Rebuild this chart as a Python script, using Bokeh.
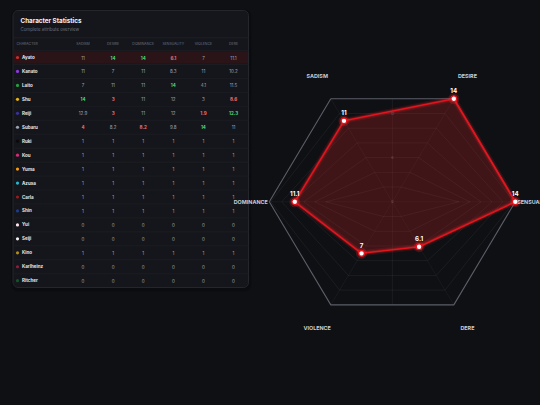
import math
from bokeh.plotting import figure
from bokeh.models import Range1d, ColumnDataSource, GlobalInlineStyleSheet
from bokeh.core.properties import value
from bokeh.embed import file_html
from bokeh.resources import INLINE

# ---------------- DATA ----------------
table_title = "Character Statistics"
table_subtitle = "Complete attribute overview"
header_first = "CHARACTER"
columns = ["SADISM", "DESIRE", "DOMINANCE", "SENSUALITY", "VIOLENCE", "DERE"]
characters = ["Ayato", "Kanato", "Laito", "Shu", "Reiji", "Subaru", "Ruki", "Kou",
              "Yuma", "Azusa", "Carla", "Shin", "Yui", "Seiji", "Kino", "Karlheinz", "Ritcher"]
char_colors = ["#dc2626", "#9333ea", "#22a33a", "#eab308", "#3730a3", "#9ca3af", "#0a0a0a",
               "#db2777", "#f59e0b", "#22b8cf", "#991b1b", "#1e3a8a", "#fbe4ee", "#f1f1f1",
               "#b08a1e", "#8b1e3f", "#14532d"]
sadism     = [11, 11, 7, 14, 12.9, 4, 1, 1, 1, 1, 1, 1, 0, 0, 1, 0, 0]
desire     = [14, 7, 11, 3, 3, 8.2, 1, 1, 1, 1, 1, 1, 0, 0, 1, 0, 0]
dominance  = [14, 11, 11, 11, 11, 8.2, 1, 1, 1, 1, 1, 1, 0, 0, 1, 0, 0]
sensuality = [6.1, 8.3, 14, 12, 12, 9.8, 1, 1, 1, 1, 1, 1, 0, 0, 1, 0, 0]
violence   = [7, 11, 4.1, 3, 1.9, 14, 1, 1, 1, 1, 1, 1, 0, 0, 1, 0, 0]
dere       = [11.1, 10.2, 11.5, 8.6, 12.3, 11, 1, 1, 1, 1, 1, 1, 0, 0, 1, 0, 0]
table_cols = [sadism, desire, dominance, sensuality, violence, dere]

radar_axes = ["SADISM", "DESIRE", "SENSUALITY", "DERE", "VIOLENCE", "DOMINANCE"]
radar_values = [11, 14, 14, 6.1, 7, 11.1]
radar_max = 14
ring_levels = [2, 4, 6, 8, 10, 12]
tick_values = [0, 6, 12]

# ---------------- STYLE / LAYOUT ----------------
BG = "#0f1014"
W, H = 540, 405
FONT = value("Inter")

p = figure(width=W, height=H, output_backend="svg", toolbar_location=None,
           x_range=Range1d(0, W), y_range=Range1d(H, 0),
           x_axis_location=None, y_axis_location=None, min_border=0,
           background_fill_color=BG, border_fill_color=BG, outline_line_color=None)
p.grid.visible = False
p.stylesheets = [GlobalInlineStyleSheet(css="html,body{background:%s;}" % BG)]

# radar coordinate system (extra ranges): centre at frame px (391.8, 201.3)
cx, cy = 391.8, 201.3
sx, sy = 123.0 / radar_max, 119.0 / radar_max
p.extra_x_ranges = {"r": Range1d(-cx / sx, (W - cx) / sx)}
p.extra_y_ranges = {"r": Range1d(-(H - cy) / sy, cy / sy)}
R = dict(x_range_name="r", y_range_name="r")

# ---------------- TABLE PANEL ----------------
px0, px1, py0, py1 = 12.5, 248, 10, 287
p.quad(left=[px0 - 2], right=[px1 + 3], top=[py0 - 1], bottom=[py1 + 4],
       fill_color="#000000", fill_alpha=0.25, line_color=None, border_radius=7)
p.quad(left=[px0], right=[px1], top=[py0], bottom=[py1],
       fill_color="#15161b", line_color="#24262c", line_width=1, border_radius=5)

p.text(x=[20], y=[20], text=[table_title], text_font=FONT, text_font_style="bold",
       text_font_size="6.3px", text_color="#f3f4f6", text_baseline="middle")
p.text(x=[20], y=[28.5], text=[table_subtitle], text_font=FONT,
       text_font_size="4.4px", text_color="#6b7280", text_baseline="middle")
p.segment(x0=[px0], x1=[px1], y0=[37.3], y1=[37.3], line_color="#1f2025", line_width=1)

col_x0, col_dx = 82.5, 30.1
col_xs = [col_x0 + i * col_dx for i in range(len(columns))]
p.text(x=[16], y=[43.7], text=[header_first], text_font=FONT, text_font_size="3.5px",
       text_color="#6b7280", text_baseline="middle")
p.text(x=col_xs, y=[43.7] * len(columns), text=columns, text_font=FONT,
       text_font_size="3.5px", text_color="#6b7280", text_baseline="middle", text_align="center")

row_y0, row_dy = 57.0, 13.95
row_ys = [row_y0 + i * row_dy for i in range(len(characters))]

# highlighted first row
p.quad(left=[px0 + 0.5], right=[px1 - 0.5], top=[row_ys[0] - 6.3], bottom=[row_ys[0] + 6.3],
       fill_color="#2a1418", line_color=None)
sep_ys = [y + row_dy / 2 for y in row_ys[:-1]] + [row_ys[0] - row_dy / 2]
p.segment(x0=[px0] * len(sep_ys), x1=[px1] * len(sep_ys), y0=sep_ys, y1=sep_ys,
          line_color="#1d1e23", line_width=0.8)

p.scatter(x=[17.0] * len(characters), y=row_ys, size=3.2, marker="circle",
          fill_color=char_colors, line_color=None)
p.text(x=[21.5] * len(characters), y=row_ys, text=characters, text_font=FONT,
       text_font_style="bold", text_font_size="4.5px", text_color="#e5e7eb",
       text_baseline="middle")

GREEN, RED, GREY = "#4ade80", "#f87171", "#9ca3af"
tx, ty, tt, tc = [], [], [], []
for ci, col in enumerate(table_cols):
    main = [v for v in col if v > 1]
    hi, lo = max(main), min(main)
    for ri, v in enumerate(col):
        tx.append(col_xs[ci]); ty.append(row_ys[ri]); tt.append(f"{v:g}")
        if v > 1 and v == hi:
            tc.append(GREEN)
        elif v > 1 and v == lo:
            tc.append(RED)
        else:
            tc.append(GREY)
bold = [c != GREY for c in tc]

def pick(seq, flag):
    return [a for a, b in zip(seq, bold) if b == flag]

src_n = ColumnDataSource(dict(x=pick(tx, False), y=pick(ty, False), t=pick(tt, False), c=pick(tc, False)))
src_b = ColumnDataSource(dict(x=pick(tx, True), y=pick(ty, True), t=pick(tt, True), c=pick(tc, True)))
p.text(x="x", y="y", text="t", text_color="c", source=src_n, text_font=FONT,
       text_font_size="4.5px", text_align="center", text_baseline="middle")
p.text(x="x", y="y", text="t", text_color="c", source=src_b, text_font=FONT,
       text_font_style="bold", text_font_size="4.5px", text_align="center", text_baseline="middle")

# ---------------- RADAR ----------------
n = len(radar_axes)
angles = [math.radians(120 - 60 * i) for i in range(n)]

def ring_pts(level, horiz=None):
    xs, ys = [], []
    for a in angles:
        r = level
        if horiz is not None and abs(math.sin(a)) < 1e-6:
            r = horiz
        xs.append(r * math.cos(a)); ys.append(r * math.sin(a))
    return xs + [xs[0]], ys + [ys[0]]

# inner rings (horizontal vertices pushed outwards as in the reference)
for lv in ring_levels:
    hr = (55.6 + 5.5 * lv) / sx
    xs, ys = ring_pts(lv, hr)
    p.line(xs, ys, line_color="#ffffff", line_alpha=0.07, line_width=0.8, **R)
# spokes
for a in angles:
    p.line([0, radar_max * math.cos(a)], [0, radar_max * math.sin(a)],
           line_color="#ffffff", line_alpha=0.05, line_width=0.8, **R)
v_ext = radar_max * math.sin(math.radians(60))
p.line([0, 0], [-v_ext, v_ext], line_color="#ffffff", line_alpha=0.07, line_width=0.8, **R)
# outer ring
xs, ys = ring_pts(radar_max)
p.line(xs, ys, line_color="#5b5e68", line_width=1.1, **R)

# tick labels
p.text(x=[0] * len(tick_values), y=[v * math.sin(math.radians(60)) for v in tick_values],
       text=[str(v) for v in tick_values], text_font=FONT, text_font_size="3.5px",
       text_color="#5b5f68", text_align="center", text_baseline="middle", **R)

# data polygon
dx = [v * math.cos(a) for v, a in zip(radar_values, angles)]
dy = [v * math.sin(a) for v, a in zip(radar_values, angles)]
p.patch(dx, dy, fill_color="#dc2626", fill_alpha=0.24, line_color=None, **R)
lx, ly = dx + [dx[0]], dy + [dy[0]]
p.line(lx, ly, line_color="#ff2a2a", line_alpha=0.10, line_width=6, line_join="round", **R)
p.line(lx, ly, line_color="#ff2a2a", line_alpha=0.18, line_width=3.5, line_join="round", **R)
p.line(lx, ly, line_color="#e3141e", line_width=1.6, line_join="round", **R)
p.scatter(dx, dy, size=11, marker="circle", fill_color="#ff2a2a", fill_alpha=0.22, line_color=None, **R)
p.scatter(dx, dy, size=5.8, marker="circle", fill_color="#ffffff", line_color="#e3141e", line_width=1.4, **R)
p.text(x=dx, y=dy, text=[f"{v:g}" for v in radar_values], y_offset=-8, text_font=FONT,
       text_font_style="bold", text_font_size="6.2px", text_color="#ffffff",
       text_align="center", text_baseline="middle", **R)

# axis labels
lab_x, lab_y, lab_al, lab_xo = [], [], [], []
for a in angles:
    c = math.cos(a)
    if abs(math.sin(a)) < 1e-6:
        lab_x.append(radar_max * c); lab_y.append(0.0)
        lab_al.append("left" if c > 0 else "right"); lab_xo.append(2 if c > 0 else -1.5)
    else:
        lab_x.append(17.1 * c); lab_y.append(17.1 * math.sin(a))
        lab_al.append("center"); lab_xo.append(0)
src_l = ColumnDataSource(dict(x=lab_x, y=lab_y, t=radar_axes, al=lab_al, xo=lab_xo))
p.text(x="x", y="y", text="t", text_align="al", x_offset="xo", source=src_l,
       text_font=FONT, text_font_style="bold", text_font_size="5.4px",
       text_color="#c9ccd3", text_baseline="middle", **R)

open("out.html", "w").write(file_html(p, INLINE))
